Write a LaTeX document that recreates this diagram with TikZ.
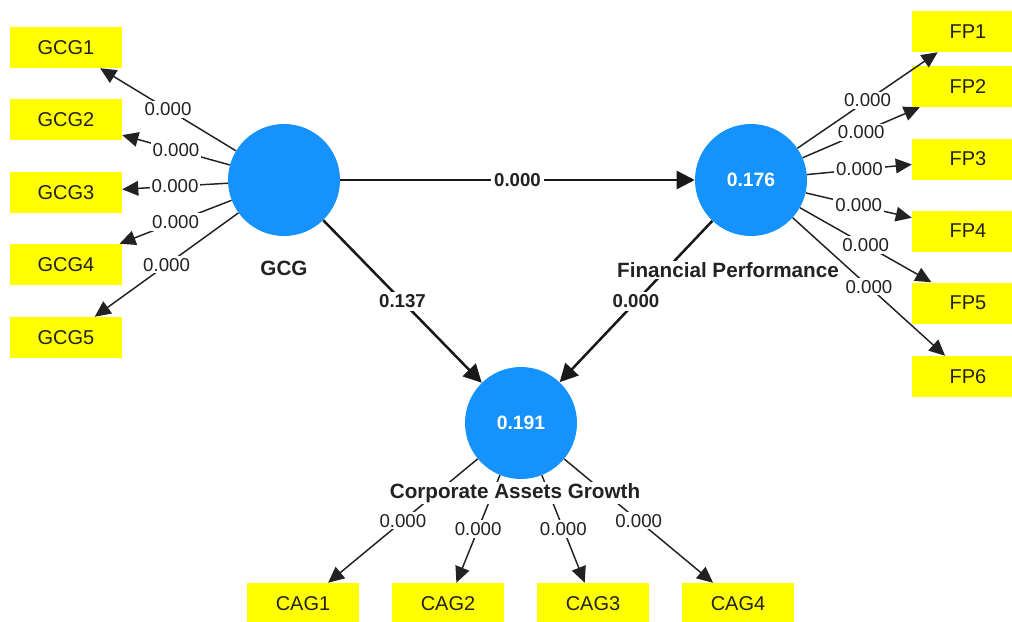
\documentclass[tikz,border=0pt]{standalone}
\usepackage{fontspec}
\setmainfont{Liberation Sans}
\usepackage{tikz}
\usetikzlibrary{arrows.meta}
\usepackage{xcolor}
\definecolor{latentblue}{RGB}{22,146,252}
\definecolor{boxyellow}{RGB}{255,255,0}
\definecolor{inkgray}{RGB}{34,34,34}

\begin{document}
\begin{tikzpicture}[x=0.75pt,y=0.75pt,yscale=-1,xscale=1,
  latent/.style={circle,fill=latentblue,minimum size=84pt,inner sep=0pt,text=white,font=\fontsize{14.5}{16}\selectfont\bfseries},
  indicator/.style={rectangle,fill=boxyellow,minimum width=84pt,minimum height=30.75pt,inner sep=0pt,text=inkgray,font=\fontsize{15}{17}\selectfont},
  loadarrow/.style={draw=inkgray,line width=1.1pt,-{Triangle[length=12pt,width=11pt]}},
  patharrow/.style={draw=black!90,line width=1.9pt,-{Triangle[length=13.5pt,width=13.5pt]}},
  loadlabel/.style={midway,fill=white,inner sep=1.5pt,text=inkgray,font=\fontsize{14}{16}\selectfont},
  pathlabel/.style={midway,fill=white,inner sep=2pt,text=inkgray,font=\fontsize{14}{16}\selectfont\bfseries},
  conlabel/.style={fill=white,inner sep=1pt,text=inkgray,font=\fontsize{15.5}{18}\selectfont\bfseries}]
%set diagram left start at 0, and has height of 621
\path[use as bounding box,fill=white] (0,0) rectangle (1012,621);

%Shape: Circle [latent variables]
\node[latent] (gcg) at (284,180) {};
\node[latent] (fp) at (751,180) {0.176};
\node[latent] (cag) at (521,423) {0.191};

%Shape: Rectangle [indicators]
\foreach \i/\y in {1/47.5,2/119.5,3/192.5,4/264.5,5/337.5}
  \node[indicator] (gcg\i) at (66,\y) {GCG\i};
\foreach \i/\y in {1/31.5,2/86.5,3/159,4/231,5/303,6/376.5}
  \node[indicator] (fp\i) at (968,\y) {FP\i};
\foreach \i/\x in {1/303,2/448,3/593,4/738}
  \node[indicator] (cag\i) at (\x,603.5) {CAG\i};

%Straight Lines [outer loadings]
\foreach \i in {1,...,5}
  \draw[loadarrow] (gcg) -- node[loadlabel] {0.000} (gcg\i);
\foreach \i in {1,...,6}
  \draw[loadarrow] (fp) -- node[loadlabel] {0.000} (fp\i);
\foreach \i in {1,...,4}
  \draw[loadarrow] (cag) -- node[loadlabel] {0.000} (cag\i);

%Straight Lines [path coefficients]
\draw[patharrow] (gcg) -- node[pathlabel] {0.000} (fp);
\draw[patharrow] (gcg) -- node[pathlabel] {0.137} (cag);
\draw[patharrow] (fp) -- node[pathlabel] {0.000} (cag);

% Text Node
\node[conlabel] (gcglabel) at (284,268) {GCG};
% Text Node
\node[conlabel] (fplabel) at (728,270) {Financial Performance};
% Text Node
\node[conlabel] (caglabel) at (515,493) {Corporate Assets Growth};

\end{tikzpicture}
\end{document}
